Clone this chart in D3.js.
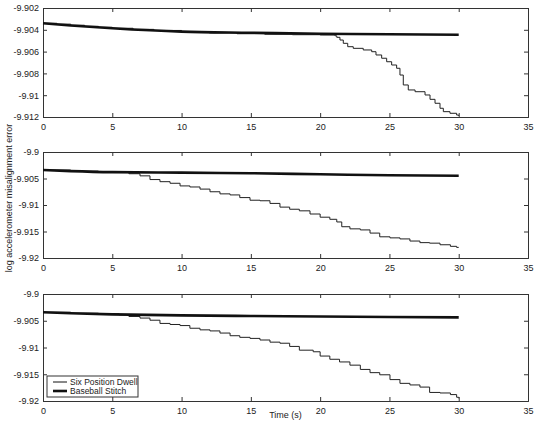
<!DOCTYPE html>
<html>
<head>
  <meta charset="utf-8">
  <title>Misalignment error</title>
  <script src="https://d3js.org/d3.v7.min.js"></script>
  <style>
    body { margin: 0; background: #fff; }
    text { font-family: "Liberation Sans", Arial, sans-serif; fill: #222; }
  </style>
</head>
<body>
<script>
// --- data ---
var xTicks = [0, 5, 10, 15, 20, 25, 30, 35];
var yTicksTop = [-9.902, -9.904, -9.906, -9.908, -9.91, -9.912];
var yTicksLow = [-9.9, -9.905, -9.91, -9.915, -9.92];
var seriesNames = ["Six Position Dwell", "Baseball Stitch"];

var tStitch = [0, 2, 5, 10, 15, 20, 25, 30];
var stitch1 = [-9.9034, -9.9036, -9.90386, -9.90417, -9.90427, -9.90436, -9.90441, -9.90445];
var stitch2 = [-9.9034, -9.9036, -9.9038, -9.9039, -9.9040, -9.9042, -9.9044, -9.90447];
var stitch3 = [-9.90342, -9.9036, -9.9038, -9.9040, -9.9041, -9.9042, -9.9043, -9.90436];

var tDwell1 = [0, 1, 2, 3, 4, 5, 6.5, 8, 10, 12, 14, 16, 18, 20, 21.07, 21.2, 21.43, 21.67, 21.99, 22.39, 23.11, 23.72, 24.03, 24.44, 24.8, 25.16, 25.52, 25.76, 26.0, 26.36, 26.85, 27.57, 27.93, 28.29, 28.65, 28.89, 29.37, 29.85, 30];
var dwell1 = [-9.9034, -9.90348, -9.90358, -9.90368, -9.90377, -9.90386, -9.90396, -9.90406, -9.90418, -9.90428, -9.90436, -9.90441, -9.90445, -9.90448, -9.90455, -9.90469, -9.90494, -9.90524, -9.90555, -9.9057, -9.90585, -9.90601, -9.90631, -9.90661, -9.90693, -9.90723, -9.90753, -9.90815, -9.90906, -9.90952, -9.90968, -9.90998, -9.91038, -9.91074, -9.9112, -9.91151, -9.91166, -9.91182, -9.9119];

var tDwell2 = [0, 2, 4, 5.5, 6.2, 7.0, 7.72, 8.44, 9.17, 9.89, 10.6, 11.33, 12.05, 12.77, 13.5, 14.2, 14.94, 15.66, 16.38, 17.1, 17.8, 18.5, 19.27, 20, 20.7, 21.2, 21.56, 22.15, 22.9, 23.6, 24.3, 25.04, 25.76, 26.48, 27.2, 27.9, 28.65, 29.4, 29.85, 30];
var dwell2 = [-9.9034, -9.9036, -9.9037, -9.9038, -9.9041, -9.9045, -9.9052, -9.9056, -9.9059, -9.9064, -9.9066, -9.9070, -9.9075, -9.9079, -9.9081, -9.9086, -9.9091, -9.9092, -9.9097, -9.9104, -9.9108, -9.9111, -9.9117, -9.9123, -9.9127, -9.9132, -9.9141, -9.9145, -9.9147, -9.9153, -9.9160, -9.9162, -9.9164, -9.9168, -9.9171, -9.9172, -9.9175, -9.9178, -9.9180, -9.9180];

var tDwell3 = [0, 2, 4, 5.5, 6.2, 7.0, 7.72, 8.44, 9.17, 9.89, 10.6, 11.33, 12.05, 12.77, 13.5, 14.2, 14.94, 15.66, 16.38, 17.1, 17.8, 18.5, 19.5, 20, 20.7, 21.4, 22.15, 22.9, 23.6, 24.3, 25.04, 25.76, 26.48, 27.2, 27.9, 28.65, 29.4, 29.85, 30];
var dwell3 = [-9.9034, -9.9036, -9.9037, -9.9039, -9.9042, -9.9045, -9.9049, -9.9055, -9.9057, -9.9059, -9.9064, -9.9067, -9.9069, -9.9073, -9.9078, -9.9081, -9.9083, -9.9086, -9.9090, -9.9092, -9.9098, -9.9105, -9.9108, -9.9116, -9.9122, -9.9127, -9.9133, -9.9141, -9.9147, -9.9151, -9.9160, -9.9167, -9.9170, -9.9174, -9.9184, -9.9185, -9.9188, -9.9193, -9.9195];

var w = 536, h = 422;
var left = 43, right = 528;

var svg = d3.select("body").append("svg").attr("width", w).attr("height", h);

var x = d3.scaleLinear().domain([0, 35]).range([left, right]);

var panels = [
  {top: 8,   bottom: 117, dom: [-9.912, -9.902], ticks: yTicksTop, tS: tStitch, s: stitch1, tD: tDwell1, d: dwell1},
  {top: 152, bottom: 258, dom: [-9.92, -9.9],    ticks: yTicksLow, tS: tStitch, s: stitch2, tD: tDwell2, d: dwell2},
  {top: 294, bottom: 401, dom: [-9.92, -9.9],    ticks: yTicksLow, tS: tStitch, s: stitch3, tD: tDwell3, d: dwell3}
];

var fmt = function(v) { return String(+v.toFixed(4)); };

panels.forEach(function(p, k) {
  var y = d3.scaleLinear().domain(p.dom).range([p.bottom, p.top]);
  var g = svg.append("g");

  // inward ticks on all four sides, labels only bottom and left
  g.append("g").attr("transform", "translate(0," + p.bottom + ")")
    .call(d3.axisBottom(x).tickValues(xTicks).tickSize(-4).tickPadding(7).tickFormat(d3.format("d")));
  g.append("g").attr("transform", "translate(0," + p.top + ")")
    .call(d3.axisTop(x).tickValues(xTicks).tickSize(-4).tickFormat(""));
  g.append("g").attr("transform", "translate(" + left + ",0)")
    .call(d3.axisLeft(y).tickValues(p.ticks).tickSize(-4).tickPadding(4).tickFormat(fmt));
  g.append("g").attr("transform", "translate(" + right + ",0)")
    .call(d3.axisRight(y).tickValues(p.ticks).tickSize(-4).tickFormat(""));

  g.selectAll(".domain").attr("stroke", "#333").attr("stroke-width", 1);
  g.selectAll(".tick line").attr("stroke", "#333");
  g.selectAll(".tick text").attr("font-size", "9px").attr("fill", "#222")
    .attr("font-family", "'Liberation Sans', Arial, sans-serif");

  var stepLine = d3.line().x(function(d) { return x(d[0]); }).y(function(d) { return y(d[1]); })
    .curve(d3.curveStepAfter);
  var smoothLine = d3.line().x(function(d) { return x(d[0]); }).y(function(d) { return y(d[1]); })
    .curve(d3.curveMonotoneX);

  g.append("path").datum(d3.zip(p.tD, p.d)).attr("d", stepLine)
    .attr("fill", "none").attr("stroke", "#222").attr("stroke-width", 1);
  g.append("path").datum(d3.zip(p.tS, p.s)).attr("d", smoothLine)
    .attr("fill", "none").attr("stroke", "#111").attr("stroke-width", 2.6);

  // legend in the last panel
  if (k === 2) {
    var lg = g.append("g").attr("transform", "translate(47,376)");
    lg.append("rect").attr("width", 91).attr("height", 21)
      .attr("fill", "#fff").attr("stroke", "#333").attr("stroke-width", 1);
    seriesNames.forEach(function(name, i) {
      var yy = 6 + i * 9;
      lg.append("line").attr("x1", 6).attr("x2", 20).attr("y1", yy).attr("y2", yy)
        .attr("stroke", "#111").attr("stroke-width", i === 0 ? 1 : 2.6);
      lg.append("text").attr("x", 23).attr("y", yy + 3).attr("font-size", "8.5px").text(name);
    });
  }
});

svg.append("text").attr("x", x(17.5)).attr("y", 418).attr("text-anchor", "middle")
  .attr("font-size", "9px").text("Time (s)");

svg.append("text").attr("transform", "translate(12,198) rotate(-90)")
  .attr("text-anchor", "middle").attr("font-size", "9px")
  .text("log accelerometer misalignment error");
</script>
</body>
</html>
